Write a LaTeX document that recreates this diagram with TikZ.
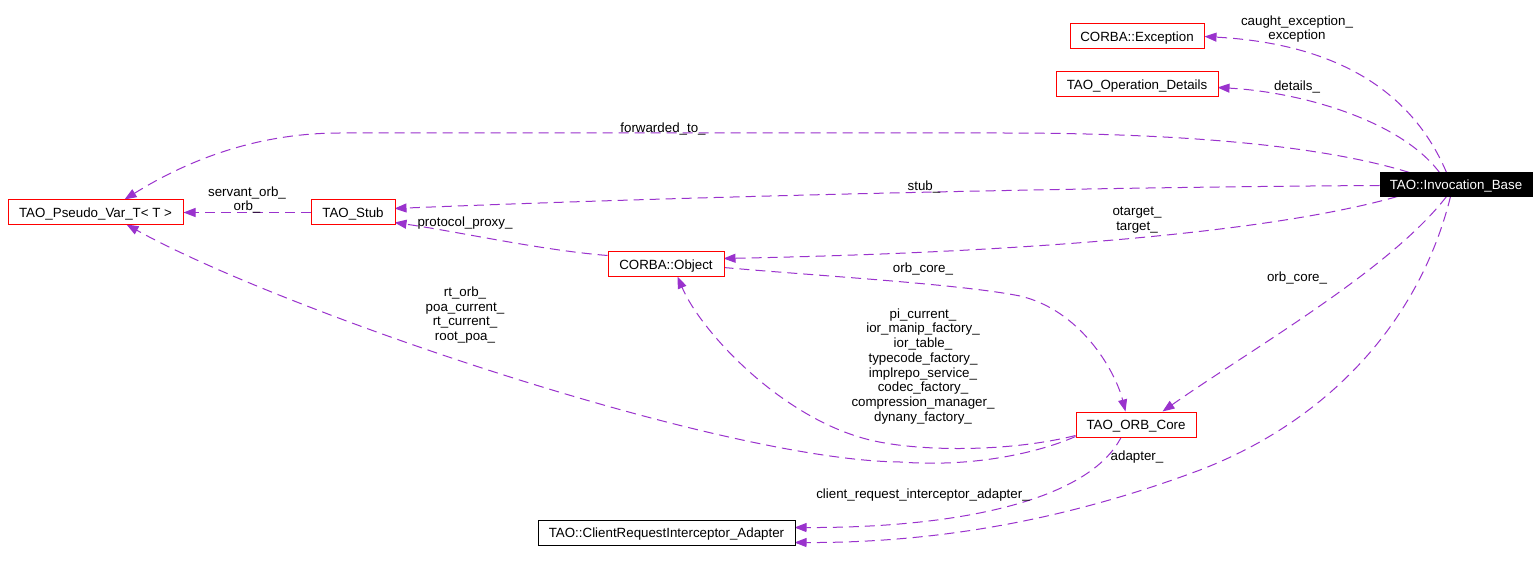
\documentclass[tikz,border=0pt]{standalone}
\usepackage{fontspec}
\setmainfont{Liberation Sans}
\usetikzlibrary{arrows.meta,calc}
\definecolor{edgec}{HTML}{9A32CD}
\newcommand\dfont{\fontsize{13.33}{14.7}\selectfont}
\begin{document}
\begin{tikzpicture}[x=1pt,y=-1pt,
  cls/.style={draw=red, fill=white, line width=1pt, minimum height=25pt, inner sep=0pt, text height=9.6pt, text depth=0pt, font=\dfont},
  edge/.style={draw=edgec, line width=1pt, dash pattern=on 10pt off 6pt, -{Triangle[length=12pt,width=9pt]}, edgec},
  lab/.style={align=center, font=\dfont, inner sep=0pt, yshift=-2pt}]
\useasboundingbox (0,0) rectangle (1539,577);
\fill[white] (0,0) rectangle (1539,577);
% nodes
\node[cls, minimum width=134pt] (exc) at (1137,36.5) {CORBA::Exception};
\node[cls, minimum width=162pt] (op) at (1137,84.5) {TAO\_Operation\_Details};
\node[cls, draw=black, fill=black, text=white, minimum width=152pt, minimum height=24pt] (inv) at (1456,185) {TAO::Invocation\_Base};
\node[cls, minimum width=175pt] (pv) at (95.5,212.5) {TAO\_Pseudo\_Var\_T< T >};
\node[cls, minimum width=84pt] (stub) at (353,212.5) {TAO\_Stub};
\node[cls, minimum width=116pt] (obj) at (666,264.5) {CORBA::Object};
\node[cls, minimum width=120pt] (orb) at (1136,424.5) {TAO\_ORB\_Core};
\node[cls, draw=black, minimum width=257pt] (adp) at (666.5,532.5) {TAO::ClientRequestInterceptor\_Adapter};
% edges
\draw[edge] ($(inv.north west)+(67,0)$) .. controls (1420,110) and (1360,45) .. (exc.east);
\draw[edge] ($(inv.north west)+(60,0)$) .. controls (1400,120) and (1300,92) .. ($(op.north west)+(162,16)$);
\draw[edge] ($(inv.north west)+(30,0)$) .. controls (1320,145) and (1180,133) .. (1000,133) -- (340,133) .. controls (250,133) and (180,165) .. ($(pv.north west)+(117,0)$);
\draw[edge] ($(inv.north west)+(0,13)$) .. controls (1100,187) and (700,196) .. ($(stub.north west)+(84,9)$);
\draw[edge] ($(inv.north west)+(18,24)$) .. controls (1280,230) and (1050,252) .. ($(obj.north west)+(116,7)$);
\draw[edge] ($(inv.north west)+(67,24)$) .. controls (1390,270) and (1250,350) .. ($(orb.north west)+(87,0)$);
\draw[edge] ($(inv.north west)+(71,24)$) .. controls (1420,320) and (1330,420) .. (1200,470) .. controls (1080,515) and (950,543) .. ($(adp.north west)+(257,23)$);
\draw[edge] (stub.west) -- (pv.east);
\draw[edge] ($(obj.north west)+(0,4)$) .. controls (540,250) and (460,232) .. ($(stub.north west)+(84,23)$);
\draw[edge] ($(obj.north west)+(116,16)$) .. controls (820,276) and (960,284) .. (1020,296) .. controls (1080,310) and (1115,370) .. ($(orb.north west)+(50,0)$);
\draw[edge] ($(orb.north west)+(0,24)$) .. controls (1010,452) and (920,452) .. (870,440) .. controls (780,418) and (700,330) .. ($(obj.north west)+(70,25)$);
\draw[edge] ($(orb.north west)+(0,25)$) .. controls (1045,450) and (980,468) .. (900,462) .. controls (720,460) and (280,310) .. ($(pv.north west)+(119,25)$);
\draw[edge] ($(orb.north west)+(46,25)$) .. controls (1090,500) and (960,528) .. ($(adp.north west)+(257,8)$);
% redraw nodes on top
\node[cls, minimum width=134pt] at (exc) {CORBA::Exception};
\node[cls, minimum width=162pt] at (op) {TAO\_Operation\_Details};
\node[cls, draw=black, fill=black, text=white, minimum width=152pt, minimum height=24pt] at (inv) {TAO::Invocation\_Base};
\node[cls, minimum width=175pt] at (pv) {TAO\_Pseudo\_Var\_T< T >};
\node[cls, minimum width=84pt] at (stub) {TAO\_Stub};
\node[cls, minimum width=116pt] at (obj) {CORBA::Object};
\node[cls, minimum width=120pt] at (orb) {TAO\_ORB\_Core};
\node[cls, draw=black, minimum width=257pt] at (adp) {TAO::ClientRequestInterceptor\_Adapter};
% labels
\node[lab] (l1) at (1297,27) {caught\_exception\_\\exception};
\node[lab] (l2) at (1297,85) {details\_};
\node[lab] (l3) at (663,127) {forwarded\_to\_};
\node[lab] (l4) at (924,185) {stub\_};
\node[lab] (l5) at (1137,218) {otarget\_\\target\_};
\node[lab] (l6) at (1297,276) {orb\_core\_};
\node[lab] (l7) at (1137,455) {adapter\_};
\node[lab] (l8) at (247,198) {servant\_orb\_\\orb\_};
\node[lab] (l9) at (465,221) {protocol\_proxy\_};
\node[lab] (l10) at (923,267) {orb\_core\_};
\node[lab] (l11) at (923,364.3) {pi\_current\_\\ior\_manip\_factory\_\\ior\_table\_\\typecode\_factory\_\\implrepo\_service\_\\codec\_factory\_\\compression\_manager\_\\dynany\_factory\_};
\node[lab] (l12) at (465,313) {rt\_orb\_\\poa\_current\_\\rt\_current\_\\root\_poa\_};
\node[lab] (l13) at (923,493) {client\_request\_interceptor\_adapter\_};
\end{tikzpicture}
\end{document}
